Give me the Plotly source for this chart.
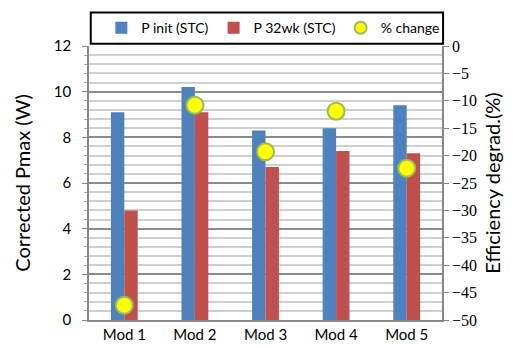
import plotly.graph_objects as go

modules = ["Mod 1", "Mod 2", "Mod 3", "Mod 4", "Mod 5"]
p_init = [9.1, 10.2, 8.3, 8.4, 9.4]
p_32wk = [4.8, 9.1, 6.7, 7.4, 7.3]
pct_change = [-47.3, -10.8, -19.3, -11.9, -22.3]

BLUE = "#4F81BD"
RED = "#C0504D"
SANS = "Lato, 'Open Sans', sans-serif"
SERIF = "'Liberation Serif', 'DejaVu Serif', serif"

fig = go.Figure()
fig.add_trace(go.Bar(x=modules, y=p_init, name="P init (STC)",
                     marker=dict(color=BLUE, line=dict(width=0))))
fig.add_trace(go.Bar(x=modules, y=p_32wk, name="P 32wk (STC)",
                     marker=dict(color=RED, line=dict(width=0))))
fig.add_trace(go.Scatter(x=modules, y=pct_change, name="% change", yaxis="y2",
                         mode="markers",
                         marker=dict(size=17, color="#FFFF00",
                                     line=dict(color="#9BBB59", width=2))))

# legend frame across the top of the plot area
fig.add_shape(type="rect", xref="paper", yref="paper",
              x0=0.005, x1=1.003, y0=1.008, y1=1.122,
              line=dict(color="black", width=2), fillcolor="white", layer="below")

fig.update_layout(
    width=517, height=349,
    margin=dict(l=89, r=75, t=46, b=29, autoexpand=False),
    paper_bgcolor="white", plot_bgcolor="white",
    barmode="group", bargap=0.62, bargroupgap=0,
    font=dict(family=SANS, size=14, color="black"),
    showlegend=True,
    legend=dict(orientation="h", x=0.035, xanchor="left", y=1.065, yanchor="middle",
                bgcolor="rgba(0,0,0,0)", borderwidth=0,
                font=dict(family=SANS, size=14), itemsizing="constant", itemwidth=30,
                tracegroupgap=0),
    xaxis=dict(showline=True, linecolor="#888888", linewidth=1.5, ticks="",
               tickfont=dict(family=SANS, size=15), mirror=False, automargin=False),
    yaxis=dict(range=[0, 12], dtick=2, showgrid=True, gridcolor="#8c8c8c", gridwidth=1.5,
               showline=True, linecolor="#888888", linewidth=1.5,
               ticks="outside", ticklen=5, tickcolor="#888888",
               tickfont=dict(family=SANS, size=15), automargin=False,
               ticklabelstandoff=8,
               minor=dict(dtick=0.4, showgrid=True, gridcolor="#cfcfcf", gridwidth=1.5,
                          ticks="outside", ticklen=3, tickcolor="#aaaaaa"),
               title=dict(text="Corrected Pmax (W)", font=dict(family=SANS, size=20),
                          standoff=18),
               zeroline=False),
    yaxis2=dict(range=[-50, 0], dtick=5, overlaying="y", side="right", showgrid=False,
                showline=True, linecolor="#888888", linewidth=1.5,
                ticks="outside", ticklen=5, tickcolor="#888888",
                tickfont=dict(family=SERIF, size=16), automargin=False,
                title=dict(text="Efficiency degrad.(%)", font=dict(family=SANS, size=20),
                           standoff=10),
                zeroline=False),
)

fig.write_html("out.html")
